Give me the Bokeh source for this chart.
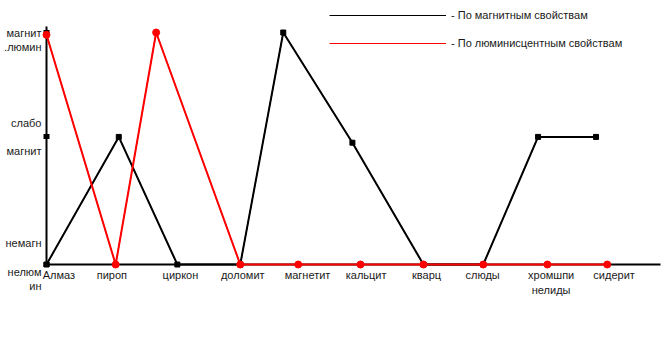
from bokeh.plotting import figure
from bokeh.models import FixedTicker, Range1d, Legend, LegendItem
from bokeh.embed import file_html
from bokeh.resources import INLINE

# ---- data ----
minerals = ["Алмаз", "пироп", "циркон", "доломит", "магнетит", "кальцит",
            "кварц", "слюды", "хромшпи\nнелиды", "сидерит"]
mineral_ticks = [0.20, 1.05, 2.15, 3.15, 4.19, 5.13, 6.10, 7.00, 8.10, 9.11]

mag_x = [0, 1.16, 2.10, 3.11, 3.80, 4.91, 6.05, 7.01, 7.89, 8.82]
mag_y = [0, 1.1, 0, 0, 2, 1.05, 0, 0, 1.1, 1.1]

lum_x = [0, 1.11, 1.76, 3.11, 4.04, 5.04, 6.05, 7.01, 8.04, 9.00]
lum_y = [1.98, 0, 2, 0, 0, 0, 0, 0, 0, 0]

levels = [0, 1.1, 2]
level_labels = ["немагн\n\nнелюм\nин", "слабо\n\nмагнит", "\nмагнит\n.люмин"]

legend_labels = ["- По магнитным свойствам", "- По люминисцентным свойствам"]

FONT = "Liberation Sans"

p = figure(width=668, height=347, output_backend="svg", toolbar_location=None,
           x_range=Range1d(0, 9.855), y_range=Range1d(0, 2.276),
           min_border_left=46, min_border_right=8, min_border_top=0, min_border_bottom=83)
p.outline_line_color = None
p.xgrid.visible = False
p.ygrid.visible = False
p.background_fill_color = "white"
p.border_fill_color = "white"

# thin legend-style lines (hidden beneath the thicker data lines)
lg1 = p.line(mag_x, mag_y, line_color="black", line_width=1)
lg2 = p.line(lum_x, lum_y, line_color="#ff0000", line_width=1)

r1 = p.line(mag_x, mag_y, line_color="black", line_width=2)
r2 = p.scatter(mag_x, mag_y, marker="square", size=5, color="black")
r3 = p.line(lum_x, lum_y, line_color="#ff0000", line_width=2)
r4 = p.scatter(lum_x, lum_y, marker="circle", size=7, color="#ff0000")
for r in (r1, r2, r3, r4):
    r.level = "overlay"

# x axis
xa = p.xaxis[0]
xa.ticker = FixedTicker(ticks=mineral_ticks)
xa.major_label_overrides = {t: s for t, s in zip(mineral_ticks, minerals)}
xa.axis_line_width = 2
xa.axis_line_color = "black"
xa.major_tick_line_color = None
xa.major_tick_out = 0
xa.major_tick_in = 0
xa.minor_tick_line_color = None
xa.major_label_standoff = 4
xa.major_label_text_font = FONT
xa.major_label_text_font_size = "11px"
xa.major_label_text_color = "#1a1a1a"
xa.major_label_text_line_height = 1.3

# y axis
ya = p.yaxis[0]
ya.bounds = (0, 2.052)
ya.ticker = FixedTicker(ticks=levels)
ya.major_label_overrides = {t: s for t, s in zip(levels, level_labels)}
ya.axis_line_width = 2
ya.axis_line_color = "black"
ya.major_tick_line_color = "black"
ya.major_tick_line_width = 5
ya.major_tick_out = 3
ya.major_tick_in = 3
ya.minor_tick_line_color = None
ya.major_label_standoff = 2
ya.major_label_text_font = FONT
ya.major_label_text_font_size = "11px"
ya.major_label_text_color = "#1a1a1a"
ya.major_label_text_line_height = 1.2

# legend
legend = Legend(items=[LegendItem(label=legend_labels[0], renderers=[lg1]),
                       LegendItem(label=legend_labels[1], renderers=[lg2])],
                location=(283, 211), glyph_width=117, glyph_height=20, label_height=20,
                spacing=8, padding=0, margin=0, label_standoff=5,
                border_line_color=None, background_fill_alpha=0,
                label_text_font=FONT, label_text_font_size="11px",
                label_text_color="#1a1a1a")
p.add_layout(legend)

open("out.html", "w").write(file_html(p, INLINE))
